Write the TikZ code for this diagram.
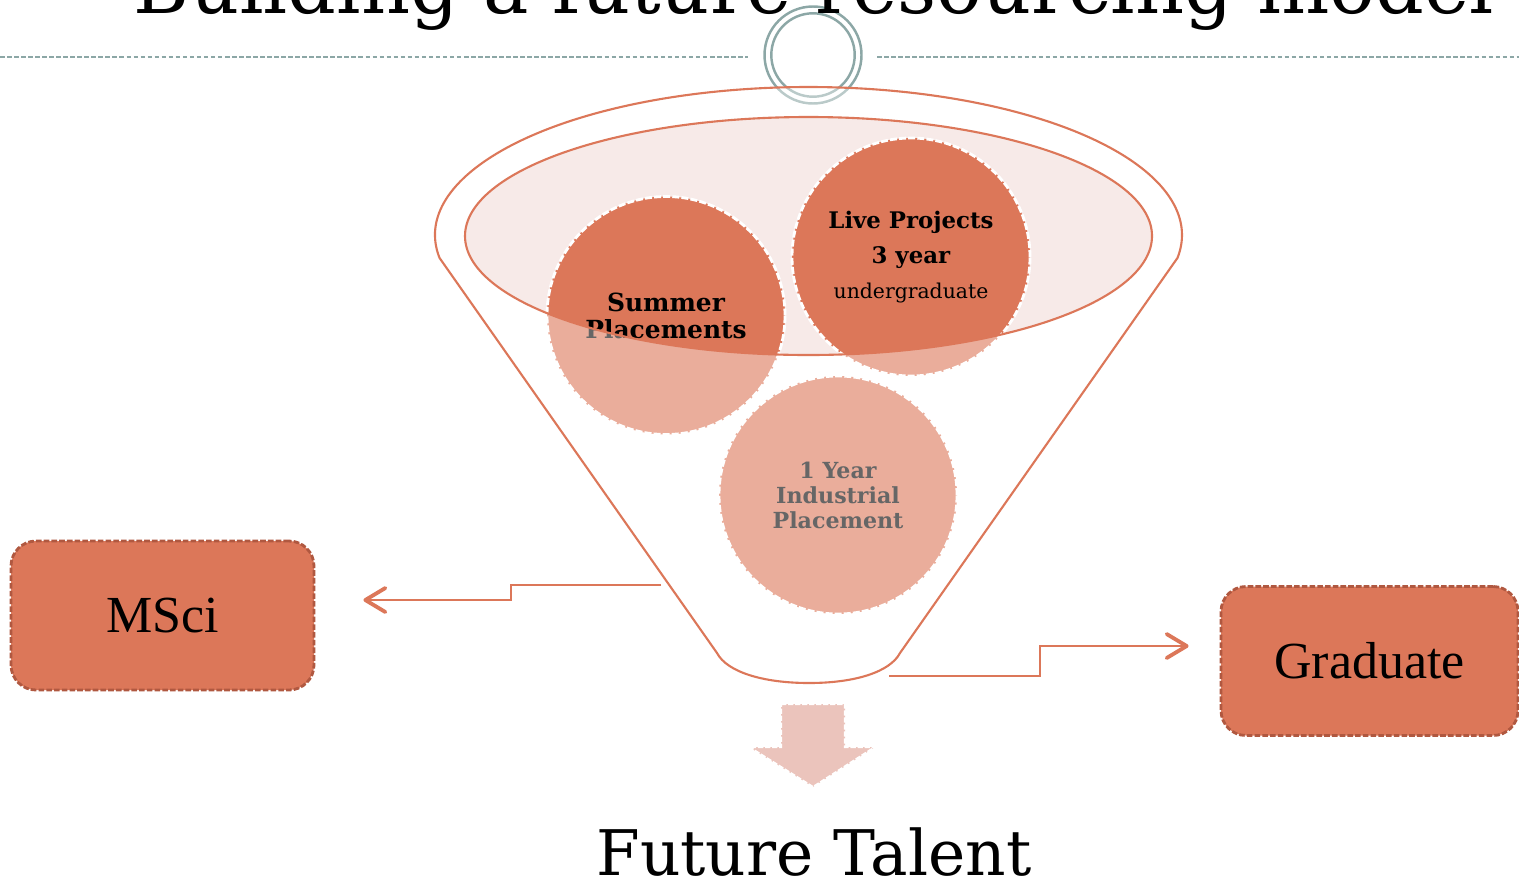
\documentclass[tikz,border=0pt]{standalone}
\usepackage{fontspec}
\setmainfont{DejaVu Serif}
\newfontfamily\boxfont{Liberation Serif}
\usetikzlibrary{arrows.meta,positioning}
\definecolor{funnel}{RGB}{220,119,89}
\definecolor{rim}{RGB}{247,234,232}
\definecolor{ring}{RGB}{140,167,166}
\definecolor{boxedge}{RGB}{176,88,64}
\definecolor{drop}{RGB}{235,196,188}
\begin{document}
\begin{tikzpicture}[
    ball/.style = {circle, minimum size = 2.38cm, inner sep = 0pt, fill = funnel, draw = white, line width = 0.8pt, dash pattern = on 2pt off 0.6pt, align = center},
    outcome/.style = {rectangle, rounded corners = 0.25cm, minimum width = 3.03cm, minimum height = 1.49cm, fill = funnel, draw = boxedge, line width = 0.8pt, dash pattern = on 1.6pt off 0.6pt, font = \boxfont\fontsize{14.8}{17}\selectfont},
    feed/.style = {draw = funnel, line width = 0.8pt, -{Straight Barb[length = 2mm, width = 2.4mm, line width = 1.1pt, round]}}
  ]
  \useasboundingbox (0, 0) rectangle (15.19, 8.82);
  \draw [ring, line width = 0.4pt, dash pattern = on 1.3pt off 0.7pt] (0, 8.25) -- (7.48, 8.25);
  \draw [ring, line width = 0.4pt, dash pattern = on 1.3pt off 0.7pt] (8.77, 8.25) -- (15.19, 8.25);
  \draw [ring, line width = 0.7pt] (8.13, 8.27) circle (0.485) (8.13, 8.27) circle (0.417);
  \node (title) at (8.14, 8.69) [anchor = base, font = \fontsize{21.7}{25}\selectfont] {Building a future resourcing model};
  \fill [rim] (8.085, 6.46) ellipse [x radius = 3.435, y radius = 1.19];
  \node (summer) at (6.66, 5.665) [ball, font = \bfseries\fontsize{7.1}{7.7}\selectfont] {Summer\\Placements};
  \node (live) at (9.11, 6.25) [ball, font = \fontsize{6.5}{9.9}\selectfont] {\textbf{Live Projects}\\\textbf{3 year}\\{\fontsize{5.8}{9.9}\selectfont undergraduate}};
  \node (industry) at (8.38, 3.87) [ball, font = \bfseries\fontsize{6.3}{7.1}\selectfont] {1 Year\\Industrial\\Placement};
  \draw [funnel, line width = 0.6pt, even odd rule, fill = white, fill opacity = 0.4] (8.085, 6.47) ++(188.9:3.735 and 1.48) arc [start angle = 188.9, end angle = -8.9, x radius = 3.735, y radius = 1.48] -- (9.00, 2.29) .. controls (8.90, 2.10) and (8.55, 1.99) .. (8.09, 1.99) .. controls (7.63, 1.99) and (7.27, 2.10) .. (7.17, 2.29) -- cycle (8.085, 6.46) ellipse [x radius = 3.435, y radius = 1.19];
  \node (msci) at (1.625, 2.665) [outcome] {MSci};
  \node (grad) at (13.695, 2.21) [outcome, minimum width = 2.97cm] {Graduate};
  \coordinate (leftOut) at (6.61, 2.97);
  \coordinate (msciIn) at ([shift = {(0.48, 0.155)}]msci.east);
  \coordinate (rightOut) at (8.89, 2.06);
  \coordinate (gradIn) at ([shift = {(-0.31, 0.15)}]grad.west);
  \draw [feed] (leftOut) -- ++(-1.5, 0) |- (msciIn);
  \draw [feed] (rightOut) -- ++(1.51, 0) |- (gradIn);
  \filldraw [drop, draw = white, line width = 0.6pt, dash pattern = on 1.5pt off 0.5pt] (7.81, 1.78) -- (8.45, 1.78) -- (8.45, 1.35) -- (8.75, 1.35) -- (8.13, 0.95) -- (7.49, 1.35) -- (7.81, 1.35) -- cycle;
  \node (talent) at (8.14, 0.07) [anchor = base, font = \fontsize{17.9}{21}\selectfont] {Future Talent};
\end{tikzpicture}
\end{document}
